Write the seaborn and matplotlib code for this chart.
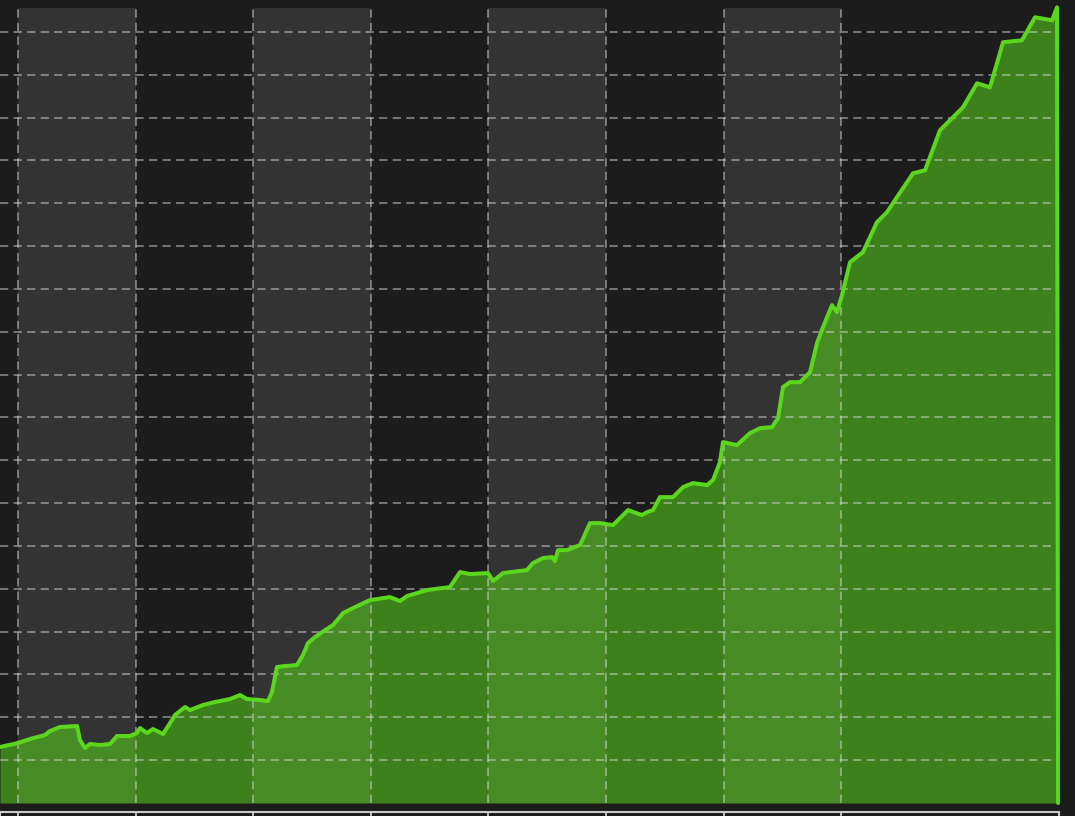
#Green area chart on a dark background, with shaded alternate bands.

import pandas as pd
import numpy as np
import matplotlib.pyplot as plt
import seaborn as sns

#Values (x in band units, y in grid units).
x_values = [-0.153, 0.0, 0.102, 0.230, 0.272, 0.357, 0.502, 0.527, 0.570, 0.612,
            0.697, 0.782, 0.842, 0.952, 1.012, 1.037, 1.097, 1.148, 1.233, 1.293,
            1.335, 1.420, 1.463, 1.573, 1.675, 1.803, 1.888, 1.947, 2.058, 2.126,
            2.160, 2.202, 2.270, 2.372, 2.423, 2.466, 2.526, 2.611, 2.679, 2.764,
            2.866, 2.993, 3.163, 3.248, 3.308, 3.478, 3.673, 3.759, 3.844, 3.997,
            4.039, 4.124, 4.328, 4.379, 4.464, 4.541, 4.566, 4.592, 4.668, 4.779,
            4.864, 4.949, 5.060, 5.187, 5.306, 5.349, 5.400, 5.459, 5.570, 5.655,
            5.740, 5.859, 5.910, 5.969, 5.995, 6.114, 6.224, 6.310, 6.412, 6.463,
            6.505, 6.565, 6.650, 6.735, 6.794, 6.845, 6.922, 6.964, 7.007, 7.075,
            7.185, 7.304, 7.389, 7.474, 7.611, 7.713, 7.840, 8.036, 8.155, 8.265,
            8.376, 8.537, 8.648, 8.793, 8.835, 8.844]
y_values = [1.307, 1.400, 1.494, 1.587, 1.680, 1.774, 1.797, 1.470, 1.284, 1.377,
            1.354, 1.377, 1.564, 1.564, 1.634, 1.750, 1.634, 1.727, 1.610, 1.867,
            2.054, 2.240, 2.170, 2.287, 2.357, 2.427, 2.520, 2.427, 2.404, 2.380,
            2.590, 3.174, 3.197, 3.221, 3.454, 3.734, 3.874, 4.037, 4.154, 4.434,
            4.574, 4.737, 4.807, 4.714, 4.831, 4.971, 5.041, 5.391, 5.344, 5.368,
            5.181, 5.368, 5.438, 5.601, 5.718, 5.741, 5.648, 5.904, 5.904, 6.021,
            6.534, 6.534, 6.488, 6.838, 6.721, 6.791, 6.838, 7.141, 7.141, 7.375,
            7.468, 7.421, 7.538, 7.958, 8.425, 8.355, 8.635, 8.751, 8.775, 8.985,
            9.708, 9.825, 9.825, 10.058, 10.735, 11.109, 11.622, 11.459, 11.855, 12.625,
            12.859, 13.559, 13.792, 14.142, 14.702, 14.772, 15.706, 16.243, 16.803, 16.709,
            17.760, 17.806, 18.343, 18.273, 18.576, 0.0]

band_starts = [0, 2, 4, 6]
grid_x = [0, 1, 2, 3, 4, 5, 6, 7]
grid_y = list(range(1, 19))

df = pd.DataFrame({"x": x_values, "y": y_values})

bg = "#1c1c1c"
band = "#333333"
green = "#5ad61c"

sns.set_style("dark", rc={"axes.facecolor": bg, "figure.facecolor": bg})

fig = plt.figure(figsize=(10.75, 8.16), dpi=100)
ax = fig.add_axes([0, 13 / 816, 1059 / 1075, 795 / 816])

#shaded bands
for b in band_starts:
    ax.axvspan(b, b + 1, color=band, lw=0, zorder=0)

#area + line
ax.fill_between(df["x"], df["y"], 0, color=green, alpha=0.55, lw=0, zorder=1)
sns.lineplot(data=df, x="x", y="y", sort=False, color=green, linewidth=2.9,
             ax=ax, zorder=3, clip_on=False, solid_joinstyle="round",
             solid_capstyle="round")

#dashed grid above the fill
for gx in grid_x:
    ax.axvline(gx, color="#dddddd", alpha=0.5, lw=1.3, ls=(0, (4.6, 2.9)), zorder=2)
for gy in grid_y:
    ax.axhline(gy, color="#dddddd", alpha=0.5, lw=1.3, ls=(0, (4.6, 2.9)), zorder=2)

ax.set_xlim(-0.153, 8.852)
ax.set_ylim(0, 18.56)
ax.set_xticks([])
ax.set_yticks([])
ax.set_xlabel("")
ax.set_ylabel("")
for s in ax.spines.values():
    s.set_visible(False)

#top edge of the panel underneath (cut off by the picture)
ax2 = fig.add_axes([0, -0.05, 1059 / 1075, 0.05 + 4 / 816])
ax2.set_facecolor(bg)
ax2.set_xlim(-0.153, 8.852)
for gx in grid_x:
    ax2.axvline(gx, color="#cccccc", lw=1.3)
ax2.set_xticks([])
ax2.set_yticks([])
for s in ax2.spines.values():
    s.set_color("#cccccc")
    s.set_linewidth(1.5)

plt.savefig("out.png", dpi=100, facecolor=bg)
